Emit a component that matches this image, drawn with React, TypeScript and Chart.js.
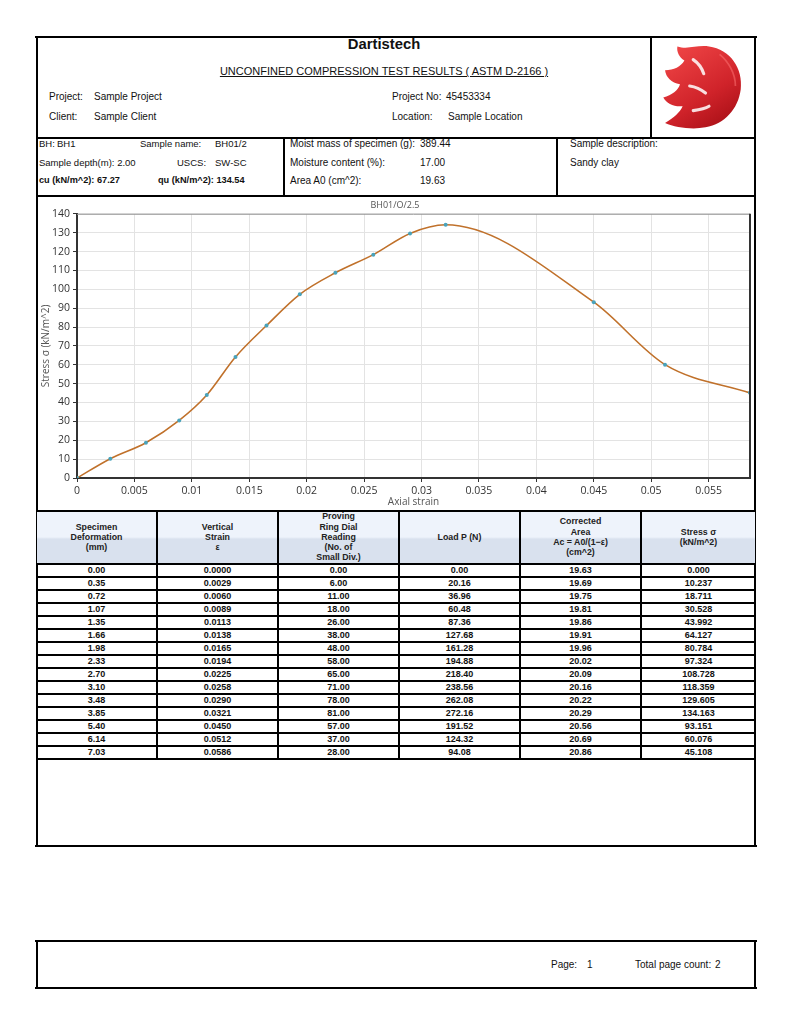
import React, { useEffect, useRef } from "react";
import { Chart, registerables } from "chart.js";

Chart.register(...registerables);

const deformation = [0.0, 0.35, 0.72, 1.07, 1.35, 1.66, 1.98, 2.33, 2.7, 3.1, 3.48, 3.85, 5.4, 6.14, 7.03];
const strain = [0.0, 0.0029, 0.006, 0.0089, 0.0113, 0.0138, 0.0165, 0.0194, 0.0225, 0.0258, 0.029, 0.0321, 0.045, 0.0512, 0.0586];
const dialReading = [0, 6, 11, 18, 26, 38, 48, 58, 65, 71, 78, 81, 57, 37, 28];
const load = [0.0, 20.16, 36.96, 60.48, 87.36, 127.68, 161.28, 194.88, 218.4, 238.56, 262.08, 272.16, 191.52, 124.32, 94.08];
const correctedArea = [19.63, 19.69, 19.75, 19.81, 19.86, 19.91, 19.96, 20.02, 20.09, 20.16, 20.22, 20.29, 20.56, 20.69, 20.86];
const stress = [0.0, 10.237, 18.711, 30.528, 43.992, 64.127, 80.784, 97.324, 108.728, 118.359, 129.605, 134.163, 93.151, 60.076, 45.108];

const PAGE_FONT = '"Liberation Sans", Arial, sans-serif';
const CHART_FONT = '"Open Sans", "Noto Sans", sans-serif';

const T = ({ x, y, s = 10, children, bold = false, center = false, color = "#111", underline = false }: any) => (
  <div
    style={{
      position: "absolute",
      left: x,
      top: y - s * 0.6,
      fontSize: s,
      lineHeight: `${s * 1.2}px`,
      fontWeight: bold ? 700 : 400,
      whiteSpace: "nowrap",
      color,
      transform: center ? "translateX(-50%)" : undefined,
      textDecoration: underline ? "underline" : undefined,
      fontFamily: PAGE_FONT,
    }}
  >
    {children}
  </div>
);

const H = ({ x1, x2, y, w = 2 }: any) => (
  <div style={{ position: "absolute", left: x1, top: y - w / 2, width: x2 - x1, height: w, background: "#000" }} />
);
const V = ({ x, y1, y2, w = 2 }: any) => (
  <div style={{ position: "absolute", left: x - w / 2, top: y1, width: w, height: y2 - y1, background: "#000" }} />
);

const colX = [36, 157, 278, 399, 520, 641, 756];
const rowTop = 564;
const rowH = 13;

const boxPlugin = {
  id: "boxPlugin",
  afterDraw(chart: any) {
    const { ctx, chartArea: a } = chart;
    ctx.save();
    ctx.strokeStyle = "#999";
    ctx.lineWidth = 1;
    ctx.beginPath();
    ctx.moveTo(a.left, a.top + 0.5);
    ctx.lineTo(a.right, a.top + 0.5);
    ctx.stroke();
    ctx.strokeStyle = "#333";
    ctx.lineWidth = 2;
    ctx.beginPath();
    ctx.moveTo(a.right, a.top);
    ctx.lineTo(a.right, a.bottom);
    ctx.stroke();
    ctx.restore();
  },
};

function StressChart() {
  const ref = useRef<HTMLCanvasElement>(null);
  useEffect(() => {
    if (!ref.current) return;
    const tickFont = { family: CHART_FONT, size: 10.5 };
    const chart = new Chart(ref.current, {
      type: "line",
      data: {
        datasets: [
          {
            data: strain.map((x, i) => ({ x, y: stress[i] })),
            borderColor: "#c0712b",
            borderWidth: 1.6,
            cubicInterpolationMode: "monotone",
            pointRadius: 2,
            pointBackgroundColor: "#49a3bb",
            pointBorderColor: "#49a3bb",
            pointBorderWidth: 0,
            fill: false,
          },
        ],
      },
      options: {
        animation: false,
        responsive: false,
        maintainAspectRatio: false,
        layout: { padding: { left: 0, right: 2, top: 0, bottom: 0 } },
        plugins: {
          legend: { display: false },
          tooltip: { enabled: false },
          title: {
            display: true,
            text: "BH01/O/2.5",
            color: "#555",
            font: { family: CHART_FONT, size: 9, weight: "normal" },
            padding: { top: 3, bottom: 3 },
          },
        },
        scales: {
          x: {
            type: "linear",
            min: 0,
            max: Math.max(...strain),
            ticks: {
              stepSize: 0.005,
              includeBounds: false,
              color: "#333",
              font: tickFont,
              padding: 3,
              maxRotation: 0,
              callback: (v: any) => String(+Number(v).toFixed(3)),
            },
            grid: { color: "#e3e3e3", tickColor: "#333", tickLength: 4 },
            border: { color: "#333", width: 2 },
            title: {
              display: true,
              text: "Axial strain",
              color: "#555",
              font: { family: CHART_FONT, size: 10 },
              padding: { top: 0, bottom: 0 },
            },
            afterFit: (s: any) => {
              s.height = 30;
            },
          },
          y: {
            type: "linear",
            min: 0,
            max: 140,
            ticks: { stepSize: 10, color: "#333", font: tickFont, padding: 3 },
            grid: { color: "#e3e3e3", tickColor: "#333", tickLength: 4 },
            border: { color: "#333", width: 2 },
            title: {
              display: true,
              text: "Stress σ (kN/m^2)",
              color: "#555",
              font: { family: CHART_FONT, size: 10 },
              padding: { top: 2, bottom: 0 },
            },
            afterFit: (s: any) => {
              s.width = 39;
            },
          },
        },
      },
      plugins: [boxPlugin],
    } as any);
    return () => chart.destroy();
  }, []);
  return (
    <canvas
      ref={ref}
      width={716}
      height={311}
      style={{ position: "absolute", left: 38, top: 197, width: 716, height: 311 }}
    />
  );
}

const Logo = () => (
  <svg style={{ position: "absolute", left: 658, top: 42 }} width={88} height={88} viewBox="0 0 100 100">
    <defs>
      <linearGradient id="lg" x1="0.2" y1="0" x2="0.8" y2="1">
        <stop offset="0" stopColor="#ee4445" />
        <stop offset="0.6" stopColor="#d0232a" />
        <stop offset="1" stopColor="#a80f16" />
      </linearGradient>
    </defs>
    <path
      d="M58 5 C82 8 97 30 94 54 C91 76 76 93 54 97 C38 100 20 97 8 92 C18 86 25 80 28 73 C18 74 10 70 6 63 C16 60 23 55 25 48 C15 46 9 40 8 32 C18 32 26 28 30 21 C24 17 21 11 22 5 C34 9 44 3 58 5 Z"
      fill="url(#lg)"
    />
    <path d="M40 20 C46 24 50 30 52 36" stroke="#fff" strokeWidth="3.5" strokeLinecap="round" fill="none" opacity="0.85" />
    <path d="M36 50 C43 51 49 54 54 58" stroke="#fff" strokeWidth="3.5" strokeLinecap="round" fill="none" opacity="0.85" />
    <path d="M40 78 C47 77 53 76 58 73" stroke="#fff" strokeWidth="3.5" strokeLinecap="round" fill="none" opacity="0.85" />
    <path d="M70 14 C80 22 88 36 88 50" stroke="#f77" strokeWidth="2" fill="none" opacity="0.5" />
  </svg>
);

const headers = [
  ["Specimen", "Deformation", "(mm)"],
  ["Vertical", "Strain", "ε"],
  ["Proving", "Ring Dial", "Reading", "(No. of", "Small Div.)"],
  ["Load P (N)"],
  ["Corrected", "Area", "Ac = A0/(1−ε)", "(cm^2)"],
  ["Stress σ", "(kN/m^2)"],
];

export default function App() {
  const rows = deformation.map((d, i) => [
    d.toFixed(2),
    strain[i].toFixed(4),
    dialReading[i].toFixed(2),
    load[i].toFixed(2),
    correctedArea[i].toFixed(2),
    stress[i].toFixed(3),
  ]);
  const tableBottom = rowTop + rowH * rows.length;
  return (
    <div style={{ position: "absolute", left: 0, top: 0, width: 791, height: 1024, background: "#fff", fontFamily: PAGE_FONT }}>
      {/* outer box */}
      <H x1={35} x2={757} y={37} />
      <H x1={35} x2={757} y={846} />
      <V x={37} y1={36} y2={847} />
      <V x={755} y1={36} y2={847} />
      {/* header */}
      <V x={651} y1={36} y2={138} />
      <H x1={36} x2={756} y={138} />
      <T x={384} y={45} s={14.8} bold center>Dartistech</T>
      <T x={384} y={72} s={11} center underline>UNCONFINED COMPRESSION TEST RESULTS ( ASTM D-2166 )</T>
      <T x={49} y={97}>Project:</T>
      <T x={94} y={97}>Sample Project</T>
      <T x={49} y={117}>Client:</T>
      <T x={94} y={117}>Sample Client</T>
      <T x={392} y={97}>Project No:</T>
      <T x={446} y={97}>45453334</T>
      <T x={392} y={117}>Location:</T>
      <T x={448} y={117}>Sample Location</T>
      <Logo />
      {/* info row */}
      <V x={284} y1={138} y2={196} />
      <V x={557} y1={138} y2={196} />
      <H x1={36} x2={756} y={196} />
      <T x={39} y={144} s={9.5}>BH:</T>
      <T x={57} y={144} s={9.5}>BH1</T>
      <T x={140} y={144} s={9.5}>Sample name:</T>
      <T x={215} y={144} s={9.5}>BH01/2</T>
      <T x={39} y={163} s={9.5}>Sample depth(m): 2.00</T>
      <T x={177} y={163} s={9.5}>USCS:</T>
      <T x={215} y={163} s={9.5}>SW-SC</T>
      <T x={39} y={181} s={9.2} bold>cu (kN/m^2): 67.27</T>
      <T x={158} y={181} s={9.2} bold>qu (kN/m^2): 134.54</T>
      <T x={290} y={144} s={10}>Moist mass of specimen (g):</T>
      <T x={420} y={144} s={10}>389.44</T>
      <T x={290} y={163} s={10}>Moisture content (%):</T>
      <T x={420} y={163} s={10}>17.00</T>
      <T x={290} y={181} s={10}>Area A0 (cm^2):</T>
      <T x={420} y={181} s={10}>19.63</T>
      <T x={570} y={144} s={10}>Sample description:</T>
      <T x={570} y={163} s={10}>Sandy clay</T>
      {/* chart */}
      <StressChart />
      {/* table header background */}
      <div
        style={{
          position: "absolute",
          left: 37,
          top: 511,
          width: 718,
          height: 52,
          background: "linear-gradient(#eef3fb 0%, #eef3fb 50%, #d9e1ee 54%, #d9e1ee 100%)",
        }}
      />
      <H x1={36} x2={756} y={511} w={2.5} />
      <H x1={36} x2={756} y={rowTop} />
      {rows.map((_, i) => (
        <H key={"h" + i} x1={36} x2={756} y={rowTop + rowH * (i + 1)} />
      ))}
      {colX.slice(1, 6).map((x) => (
        <V key={"v" + x} x={x} y1={510} y2={tableBottom + 1} />
      ))}
      {headers.map((lines, c) => {
        const cx = (colX[c] + colX[c + 1]) / 2;
        const mid = 537;
        const lh = 10.2;
        return lines.map((t, k) => (
          <T key={c + "-" + k} x={cx} y={mid + (k - (lines.length - 1) / 2) * lh} s={8.8} bold center color="#222">
            {t}
          </T>
        ));
      })}
      {rows.map((r, i) =>
        r.map((t, c) => (
          <T key={i + "_" + c} x={(colX[c] + colX[c + 1]) / 2} y={rowTop + rowH * i + rowH / 2} s={9} bold center>
            {t}
          </T>
        ))
      )}
      {/* footer */}
      <H x1={35} x2={757} y={941} />
      <H x1={35} x2={757} y={988} />
      <V x={37} y1={940} y2={989} />
      <V x={755} y1={940} y2={989} />
      <T x={551} y={965}>Page:</T>
      <T x={587} y={965}>1</T>
      <T x={635} y={965}>Total page count:</T>
      <T x={715} y={965}>2</T>
    </div>
  );
}
